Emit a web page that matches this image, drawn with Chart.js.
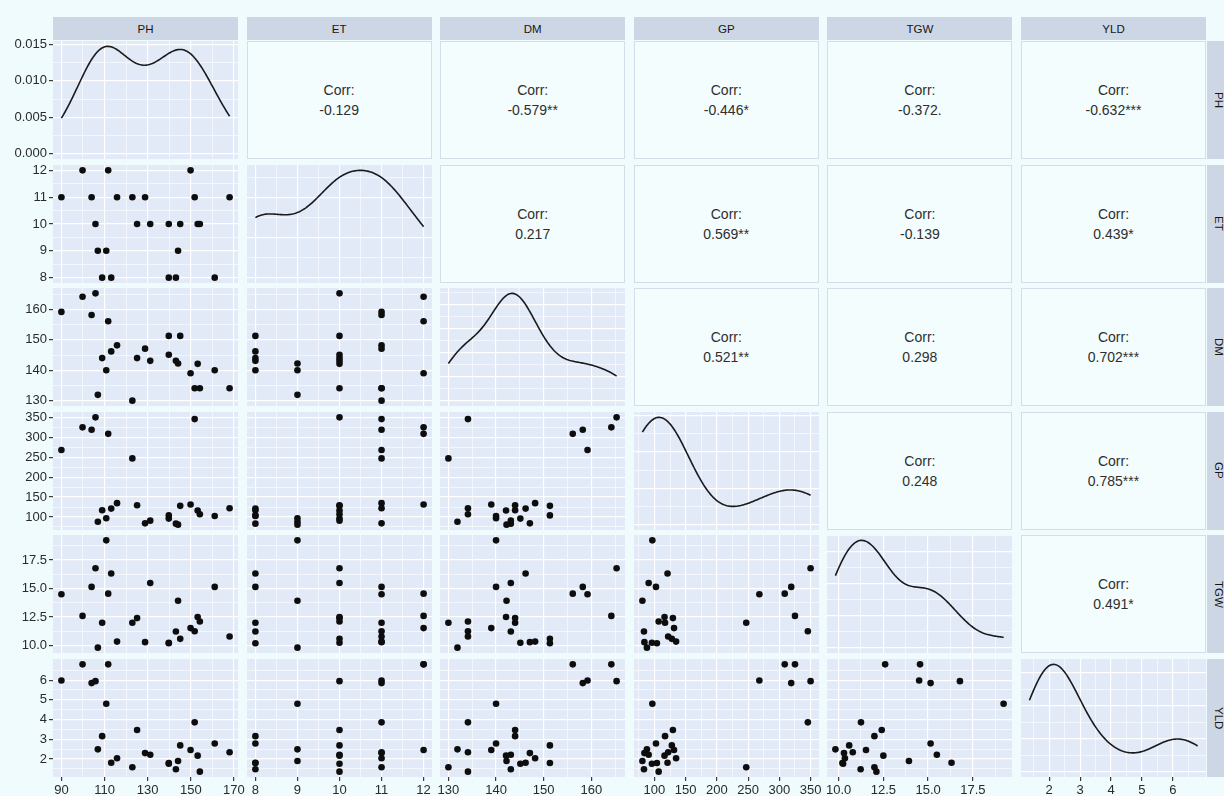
<!DOCTYPE html>
<html>
<head>
<meta charset="utf-8">
<title>Trait pairs</title>
<script src="https://cdn.jsdelivr.net/npm/chart.js@4.4.1/dist/chart.umd.min.js"></script>
<style>
  html, body { margin: 0; padding: 0; }
  body {
    width: 1224px; height: 796px; position: relative; overflow: hidden;
    background: #effbfc;
    font-family: "Liberation Sans", Arial, sans-serif;
  }
  canvas { position: absolute; }
  .strip {
    position: absolute; background: #cdd6e5; color: #161616;
    font-size: 11.5px; display: flex; align-items: center; justify-content: center;
  }
  .strip.right { writing-mode: vertical-rl; }
  .corr {
    position: absolute; box-sizing: border-box;
    background: #f4fdfe; border: 1px solid #d5dde8;
    display: flex; flex-direction: column; align-items: center; justify-content: center;
    font-size: 14px; line-height: 20px; color: #2e2e2e;
  }
</style>
</head>
<body>
<script>
// ---- traits (25 genotypes) ----
const variables = ['PH', 'ET', 'DM', 'GP', 'TGW', 'YLD'];
const PH  = [90, 99.8, 104, 105.8, 106.9, 108.9, 110.8, 111.7, 113.1, 115.8, 122.9, 125.1, 128.8,
             131.2, 139.8, 139.8, 143.1, 144.1, 145.1, 149.9, 151.8, 153.2, 154.2, 161.1, 168];
const ET  = [11, 12, 11, 10, 9, 8, 9, 12, 8, 11, 11, 10, 11, 10, 8, 10, 8, 9, 10, 12, 11, 10, 10, 8, 11];
const DM  = [159.2, 164.2, 158.2, 165.3, 131.9, 144, 140, 156.1, 146.2, 148.2, 130, 144, 147.1,
             143.1, 151.3, 145.1, 143.1, 142.2, 151.3, 139, 134.1, 142.1, 134.1, 140, 134.1];
const GP  = [268, 325, 319, 350, 88, 117, 96.7, 308.6, 121, 134.7, 247, 129.6, 84,
             90.8, 104, 96, 83.3, 80.8, 127.9, 131.4, 345.6, 116.2, 106.8, 102.5, 122];
const TGW = [14.5, 12.6, 15.14, 16.78, 9.82, 12.0, 19.22, 14.55, 16.31, 10.35, 12.0, 12.41, 10.3,
             15.49, 10.21, 10.25, 11.23, 13.93, 10.59, 11.53, 11.25, 12.5, 12.11, 15.14, 10.79];
const YLD = [5.98, 6.8, 5.85, 5.95, 2.49, 3.16, 4.8, 6.8, 1.81, 2.04, 1.58, 3.47, 2.3,
             2.22, 1.8, 1.76, 1.48, 1.9, 2.69, 2.46, 3.86, 2.17, 1.36, 2.79, 2.34];

// ---- correlation labels, upper triangle by row ----
const corrPH  = ['-0.129', '-0.579**', '-0.446*', '-0.372.', '-0.632***'];
const corrET  = ['0.217', '0.569**', '-0.139', '0.439*'];
const corrDM  = ['0.521**', '0.298', '0.702***'];
const corrGP  = ['0.248', '0.785***'];
const corrTGW = ['0.491*'];

// ---- tick labels and minor grid values ----
const phTicks  = [90, 110, 130, 150, 170];      const phLabels  = ['90', '110', '130', '150', '170'];
const phMinor  = [100, 120, 140, 160];
const etTicks  = [8, 9, 10, 11, 12];            const etLabels  = ['8', '9', '10', '11', '12'];
const etMinor  = [8.5, 9.5, 10.5, 11.5];
const dmTicks  = [130, 140, 150, 160];          const dmLabels  = ['130', '140', '150', '160'];
const dmMinor  = [135, 145, 155, 165];
const gpTicks  = [100, 150, 200, 250, 300, 350]; const gpLabels = ['100', '150', '200', '250', '300', '350'];
const gpMinor  = [75, 125, 175, 225, 275, 325];
const tgwTicks = [10, 12.5, 15, 17.5];          const tgwLabels = ['10.0', '12.5', '15.0', '17.5'];
const tgwMinor = [11.25, 13.75, 16.25, 18.75];
const yldTicks = [2, 3, 4, 5, 6];               const yldLabels = ['2', '3', '4', '5', '6'];
const yldMinor = [1.5, 2.5, 3.5, 4.5, 5.5, 6.5];
const phDensityTicks  = [0, 0.005, 0.010, 0.015];
const phDensityLabels = ['0.000', '0.005', '0.010', '0.015'];
const phDensityMinor  = [0.0025, 0.0075, 0.0125];

// ---- layout ----
const FONT = '"Liberation Sans", Arial, sans-serif';
const W = 185, H = 118, M = 18;
const colX = c => 53 + c * 193.6;
const rowY = r => 41 + r * 123.6;

// ---- helpers ----
function makeSpec(values, ticks, labels, minor) {
  const lo = Math.min(...values), hi = Math.max(...values), pad = (hi - lo) * 0.05;
  return buildSpec(lo - pad, hi + pad, ticks, labels, minor);
}
function buildSpec(min, max, ticks, labels, minor) {
  const inside = v => v >= min - 1e-12 && v <= max + 1e-12;
  const grid = ticks.concat(minor).filter(inside).sort((a, b) => a - b);
  const idx = v => ticks.findIndex(t => Math.abs(t - v) < 1e-9);
  return {
    min, max, grid,
    isMajor: v => idx(v) >= 0,
    labelOf: v => { const i = idx(v); return i >= 0 && labels ? labels[i] : ''; }
  };
}
function bwNrd0(x) {
  const n = x.length, mean = x.reduce((a, b) => a + b, 0) / n;
  const sd = Math.sqrt(x.reduce((a, b) => a + (b - mean) ** 2, 0) / (n - 1));
  const s = [...x].sort((a, b) => a - b);
  const q = p => { const h = (n - 1) * p, l = Math.floor(h); return s[l] + (h - l) * ((s[l + 1] ?? s[l]) - s[l]); };
  const iqr = q(0.75) - q(0.25);
  return 0.9 * Math.min(sd, iqr / 1.34) * Math.pow(n, -0.2);
}
function densityCurve(x) {
  const bw = bwNrd0(x), n = x.length, lo = Math.min(...x), hi = Math.max(...x);
  const pts = [], k = 1 / (n * bw * Math.sqrt(2 * Math.PI));
  for (let i = 0; i < 160; i++) {
    const t = lo + (hi - lo) * i / 159;
    let d = 0;
    for (const v of x) d += Math.exp(-0.5 * ((t - v) / bw) ** 2);
    pts.push({ x: t, y: d * k });
  }
  return pts;
}
function niceStep(raw) {
  const mag = Math.pow(10, Math.floor(Math.log10(raw))), f = raw / mag;
  return (f < 1.5 ? 1 : f < 2.25 ? 2 : f < 3.5 ? 2.5 : f < 7.5 ? 5 : 10) * mag;
}

const data = [PH, ET, DM, GP, TGW, YLD];
const specs = [
  makeSpec(PH, phTicks, phLabels, phMinor),
  makeSpec(ET, etTicks, etLabels, etMinor),
  makeSpec(DM, dmTicks, dmLabels, dmMinor),
  makeSpec(GP, gpTicks, gpLabels, gpMinor),
  makeSpec(TGW, tgwTicks, tgwLabels, tgwMinor),
  makeSpec(YLD, yldTicks, yldLabels, yldMinor)
];
const curves = data.map(densityCurve);
const densSpecs = curves.map((pts, i) => {
  const top = Math.max(...pts.map(p => p.y));
  const min = -0.05 * top, max = 1.05 * top;
  if (i === 0) return buildSpec(min, max, phDensityTicks, phDensityLabels, phDensityMinor);
  const step = niceStep(top / 3), majors = [], minors = [];
  for (let v = 0; v <= max; v += step) { majors.push(v); minors.push(v + step / 2); }
  return buildSpec(min, max, majors, null, minors);
});

const panelBg = {
  id: 'panelBg',
  beforeDraw(chart) {
    const { ctx, chartArea: a } = chart;
    ctx.save();
    ctx.fillStyle = '#e2e9f7';
    ctx.fillRect(a.left, a.top, a.right - a.left, a.bottom - a.top);
    ctx.restore();
  }
};

function scaleCfg(spec, axis, show, size) {
  return {
    type: 'linear',
    position: axis === 'x' ? 'bottom' : 'left',
    min: spec.min, max: spec.max,
    afterBuildTicks: s => { s.ticks = spec.grid.map(v => ({ value: v })); },
    afterFit: s => { if (axis === 'x') s.height = show ? size : 0; else s.width = show ? size : 0; },
    ticks: {
      display: show, autoSkip: false, maxRotation: 0, minRotation: 0, padding: 2,
      color: '#2a2a2a', font: { family: FONT, size: 13 },
      callback: v => spec.labelOf(v)
    },
    grid: {
      color: '#ffffff',
      lineWidth: ctx => spec.isMajor(ctx.tick.value) ? 1.2 : 0.6,
      drawTicks: show, tickLength: 4, tickWidth: 1.2,
      tickColor: ctx => spec.isMajor(ctx.tick.value) ? '#3a3a3a' : 'rgba(0,0,0,0)'
    },
    border: { display: false }
  };
}

function addDiv(cls, x, y, w, h, html) {
  const d = document.createElement('div');
  d.className = cls;
  Object.assign(d.style, { left: x + 'px', top: y + 'px', width: w + 'px', height: h + 'px' });
  d.innerHTML = html;
  document.body.appendChild(d);
}

// strips
variables.forEach((v, i) => {
  addDiv('strip', colX(i), 17, W, 23, v);
  addDiv('strip right', 1207, rowY(i), 23, H, v);
});

// correlation panels
const corrRows = [corrPH, corrET, corrDM, corrGP, corrTGW];
corrRows.forEach((row, r) => {
  row.forEach((label, k) => {
    const c = r + 1 + k;
    addDiv('corr', colX(c), rowY(r), W, H, '<div>Corr:</div><div>' + label + '</div>');
  });
});

// scatter and density panels
for (let r = 0; r < 6; r++) {
  for (let c = 0; c <= r; c++) {
    const px = colX(c), py = rowY(r);
    const showY = c === 0, showX = r === 5;
    const left = showY ? 0 : px - M;
    const top = py - M;
    const right = px + W + M;
    const bottom = showX ? 796 : py + H + M;
    const cv = document.createElement('canvas');
    cv.width = Math.round(right - left); cv.height = Math.round(bottom - top);
    cv.style.left = left + 'px'; cv.style.top = top + 'px';
    cv.style.width = cv.width + 'px'; cv.style.height = cv.height + 'px';
    document.body.appendChild(cv);

    const ySpec = r === c ? densSpecs[c] : specs[r];
    const dataset = r === c
      ? { data: curves[c], showLine: true, pointRadius: 0, borderColor: '#1a1a1a', borderWidth: 1.6, fill: false, tension: 0 }
      : { data: data[c].map((v, k) => ({ x: v, y: data[r][k] })), showLine: false,
          pointRadius: 3.3, pointBackgroundColor: '#0d0d0d', pointBorderWidth: 0 };

    new Chart(cv, {
      type: 'scatter',
      data: { datasets: [dataset] },
      options: {
        responsive: false, animation: false, devicePixelRatio: 1, events: [],
        layout: {
          autoPadding: false,
          padding: { left: showY ? 0 : M, top: M, right: M, bottom: showX ? 0 : M }
        },
        plugins: { legend: { display: false }, tooltip: { enabled: false }, title: { display: false } },
        scales: {
          x: scaleCfg(specs[c], 'x', showX, bottom - (py + H)),
          y: scaleCfg(ySpec, 'y', showY, px)
        }
      },
      plugins: [panelBg]
    });
  }
}
</script>
</body>
</html>
